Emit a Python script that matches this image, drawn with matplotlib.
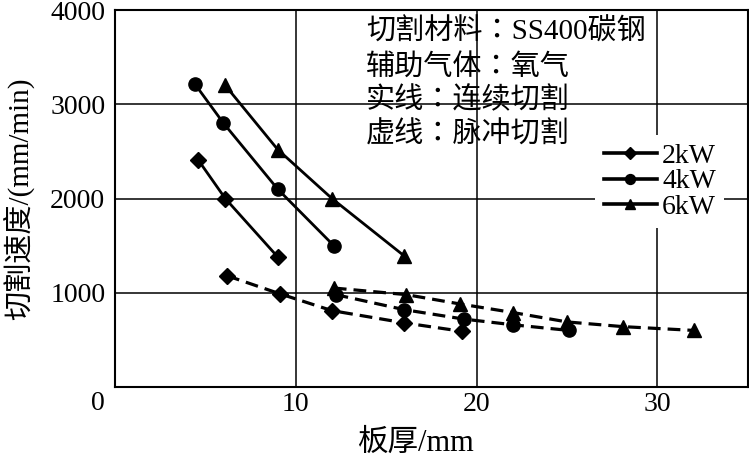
import matplotlib.pyplot as plt
import matplotlib.transforms as mtransforms
from matplotlib.patches import Rectangle

plt.rcParams['font.family'] = ['Liberation Serif', 'Noto Sans CJK SC']

# 连续切割 (实线)
cont_2kw_x = [4.6, 6.1, 9.0]
cont_2kw_y = [2410, 2000, 1380]
cont_4kw_x = [4.4, 6.0, 9.0, 12.1]
cont_4kw_y = [3220, 2800, 2100, 1500]
cont_6kw_x = [6.1, 9.0, 12.0, 16.0]
cont_6kw_y = [3200, 2520, 2000, 1390]

# 脉冲切割 (虚线)
puls_2kw_x = [6.2, 9.1, 12.0, 16.0, 19.2]
puls_2kw_y = [1180, 990, 810, 680, 590]
puls_4kw_x = [12.2, 16.0, 19.3, 22.0, 25.1]
puls_4kw_y = [980, 820, 720, 660, 600]
puls_6kw_x = [12.1, 16.1, 19.1, 22.0, 25.0, 28.1, 32.0]
puls_6kw_y = [1050, 980, 880, 790, 690, 640, 600]

labels = ['2kW', '4kW', '6kW']
markers = ['D', 'o', '^']
msizes = [8.5, 9.5, 10]
notes = ['切割材料：SS400碳钢', '辅助气体：氧气', '实线：连续切割', '虚线：脉冲切割']

fig = plt.figure(figsize=(7.49, 4.59), dpi=100)
ax = fig.add_axes([0.1535, 0.157, 0.845, 0.821])

cont = [(cont_2kw_x, cont_2kw_y), (cont_4kw_x, cont_4kw_y), (cont_6kw_x, cont_6kw_y)]
puls = [(puls_2kw_x, puls_2kw_y), (puls_4kw_x, puls_4kw_y), (puls_6kw_x, puls_6kw_y)]

for (x, y), m, ms, lab in zip(cont, markers, msizes, labels):
    ax.plot(x, y, color='black', lw=2.0, marker=m, ms=ms, label=lab, zorder=3)
for (x, y), m, ms in zip(puls, markers, msizes):
    ax.plot(x, y, color='black', lw=2.3, marker=m, ms=ms, dashes=(4, 2.2), zorder=3)

ax.set_xlim(0, 35)
ax.set_ylim(0, 4000)
ax.set_xticks([10, 20, 30])
ax.set_yticks([0, 1000, 2000, 3000, 4000])
ax.tick_params(length=0, labelsize=20)
ax.tick_params(axis='y', pad=7)
ax.tick_params(axis='x', pad=4)
ax.grid(True, color='black', lw=1.1)
for s in ax.spines.values():
    s.set_linewidth(1.5)

# 原点的 0 稍微下移
lab0 = ax.get_yticklabels()[0]
lab0.set_transform(lab0.get_transform() + mtransforms.ScaledTranslation(0, -10 / 72, fig.dpi_scale_trans))

ax.set_xlabel('板厚/mm', fontsize=22)
ax.xaxis.set_label_coords(0.475, -0.112)
ax.set_ylabel('切割速度/(mm/min)', fontsize=21)
ax.yaxis.set_label_coords(-0.128, 0.5)

# 说明文字的白底
ax.add_patch(Rectangle((0.3896, 0.597), 0.402, 0.403, transform=ax.transAxes,
                       facecolor='white', edgecolor='none', zorder=1.5))
for txt, yy in zip(notes, [0.941, 0.848, 0.761, 0.668]):
    ax.text(0.397, yy, txt, transform=ax.transAxes, fontsize=21, va='center', ha='left',
            family=['Liberation Serif', 'Noto Sans CJK TC'], zorder=4)

leg = ax.legend(loc='center', bbox_to_anchor=(0.861, 0.545), fontsize=20, frameon=True,
                fancybox=False, edgecolor='none', facecolor='white', framealpha=1,
                labelspacing=0.0, handlelength=1.9, handletextpad=0.2, markerscale=0.75,
                borderpad=0.3)
for h in leg.get_lines():
    h.set_linewidth(2.6)

fig.savefig('out.png', dpi=100)
